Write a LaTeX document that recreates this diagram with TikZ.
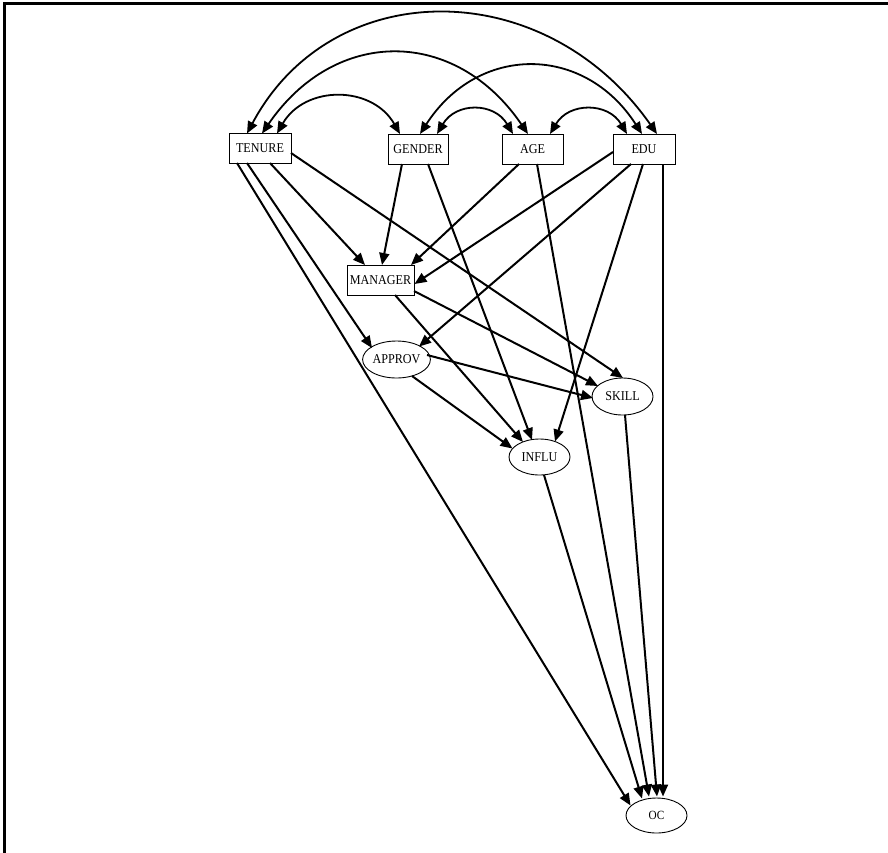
\documentclass[tikz,border=0pt]{standalone}
\usepackage{fontspec}
\setmainfont{Liberation Serif}[FakeStretch=0.9]
\usetikzlibrary{arrows.meta,shapes.geometric}

\tikzset{
  lbl/.style={font=\fontsize{13.5}{15}\selectfont, inner sep=0pt},
  obs/.style={lbl, draw, line width=0.9pt, rectangle, minimum width=#1, minimum height=30pt},
  obs/.default=62pt,
  lat/.style={lbl, draw, line width=0.9pt, ellipse, minimum width=61pt, minimum height=37pt},
  path/.style={line width=2pt, -{Triangle[length=12pt,width=10pt]}},
  cov/.style={line width=1.8pt, {Triangle[length=12pt,width=10pt]}-{Triangle[length=12pt,width=10pt]}}
}

\begin{document}
\begin{tikzpicture}[x=1pt, y=-1pt]
  \useasboundingbox (0,0) rectangle (888,852);
  % frame on the top and left
  \draw[line width=3pt] (4,853) -- (4,3) -- (889,3);

  % exogenous variables
  \node[obs=62pt] (tenure)  at (260,148.5) {TENURE};
  \node[obs=60pt] (gender)  at (418,149)   {GENDER};
  \node[obs=61pt] (age)     at (532.5,149) {AGE};
  \node[obs=62pt] (edu)     at (644,149)   {EDU};

  % mediators and outcome
  \node[obs=67pt] (manager) at (380.5,280) {MANAGER};
  \node[lat] (approv) at (396.5,359.5) {APPROV};
  \node[lat] (skill)  at (622.5,396.5) {SKILL};
  \node[lat, minimum height=36pt] (influ)  at (539.5,457) {INFLU};
  \node[lat, minimum height=35pt, font=\fontsize{12.5}{14}\selectfont] (oc) at (656.5,815.5) {OC};

  % covariances among the exogenous variables
  \draw[cov] ([shift={(-13,-15)}]tenure.center) .. controls (332,-26) and (545,-26) .. ([shift={(13,-15)}]edu.center);
  \draw[cov] ([shift={(2,-15)}]tenure.center) .. controls (335,27) and (455,27) .. ([shift={(-4.5,-15)}]age.center);
  \draw[cov] ([shift={(17,-15)}]tenure.center) .. controls (305,85) and (372,85) .. ([shift={(-18,-15)}]gender.center);
  \draw[cov] ([shift={(2,-15)}]gender.center) .. controls (478,44) and (584,44) .. ([shift={(-2,-15)}]edu.center);
  \draw[cov] ([shift={(19,-15)}]gender.center) .. controls (456,102) and (494,102) .. ([shift={(-19.5,-15)}]age.center);
  \draw[cov] ([shift={(17.5,-15)}]age.center) .. controls (569,102) and (608,102) .. ([shift={(-17,-15)}]edu.center);

  % structural paths
  \draw[path] ([shift={(10,14.5)}]tenure.center)  -- ([shift={(-15.5,-15)}]manager.center);
  \draw[path] ([shift={(-13,14.5)}]tenure.center) -- ([shift={(-24.5,-11.5)}]approv.center);
  \draw[path] ([shift={(-23,14.5)}]tenure.center) -- ([shift={(-26,-10)}]oc.center);
  \draw[path] ([shift={(31,4.5)}]tenure.center)   -- ([shift={(0.5,-18.5)}]skill.center);

  \draw[path] ([shift={(-16,15)}]gender.center) -- ([shift={(1.5,-15)}]manager.center);
  \draw[path] ([shift={(10,15)}]gender.center)  -- ([shift={(-7.5,-17)}]influ.center);

  \draw[path] ([shift={(-13.5,15)}]age.center) -- ([shift={(30.5,-15)}]manager.center);
  \draw[path] ([shift={(4.5,15)}]age.center)   -- ([shift={(-7.5,-19)}]oc.center);

  \draw[path] ([shift={(-31,3)}]edu.center)  -- ([shift={(34,4)}]manager.center);
  \draw[path] ([shift={(-13,15)}]edu.center) -- ([shift={(22.5,-13)}]approv.center);
  \draw[path] ([shift={(-1,15)}]edu.center)  -- ([shift={(15.5,-15.5)}]influ.center);
  \draw[path] ([shift={(19,15)}]edu.center)  -- ([shift={(6.5,-19)}]oc.center);

  \draw[path] ([shift={(33.5,11)}]manager.center) -- ([shift={(-24.5,-10.5)}]skill.center);
  \draw[path] ([shift={(14.5,15)}]manager.center) -- ([shift={(-16.5,-15)}]influ.center);

  \draw[path] ([shift={(30.5,-4.5)}]approv.center) -- ([shift={(-29.5,1.5)}]skill.center);
  \draw[path] ([shift={(15.5,16.5)}]approv.center) -- ([shift={(-27,-8.5)}]influ.center);

  \draw[path] ([shift={(2.5,18.5)}]skill.center) -- ([shift={(0.5,-19)}]oc.center);
  \draw[path] ([shift={(4.5,18)}]influ.center)   -- ([shift={(-14.5,-17)}]oc.center);
\end{tikzpicture}
\end{document}
